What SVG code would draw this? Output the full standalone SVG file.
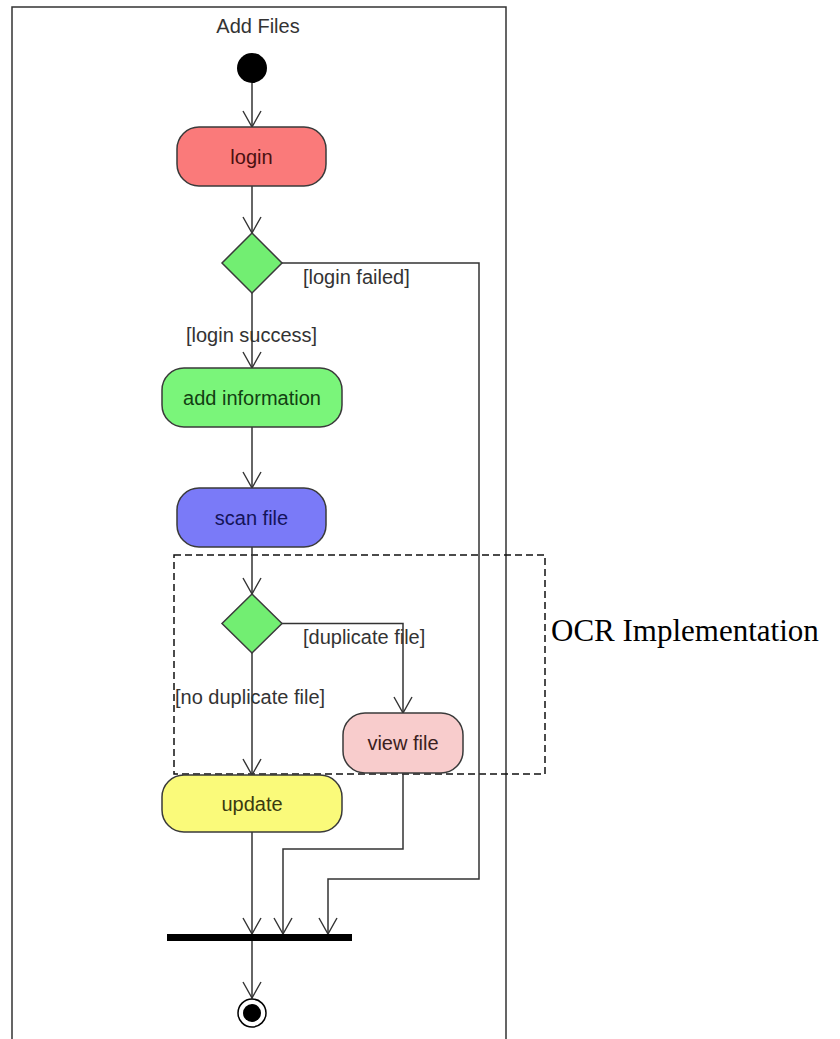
<svg xmlns="http://www.w3.org/2000/svg" width="840" height="1039" viewBox="0 0 840 1039">
<style>
.ln{fill:none;stroke:#333;stroke-width:1.5}
.act{stroke:#3a3a3a;stroke-width:1.5}
.t{font-family:"Liberation Sans",Arial,sans-serif;font-size:20px;text-anchor:middle}
.lb{font-family:"Liberation Sans",Arial,sans-serif;font-size:20px;fill:#333}
</style>
<defs>
<marker id="arr" viewBox="0 0 18 20" refX="17" refY="10" markerWidth="18" markerHeight="20" markerUnits="userSpaceOnUse" orient="auto">
<path d="M1,1 L17,10 L1,19" fill="none" stroke="#333" stroke-width="1.4"/>
</marker>
</defs>
<rect width="840" height="1039" fill="#fff"/>
<g id="frame">
<path d="M12,1039 V7 H506 V1039" class="ln"/>
<text x="258" y="33" class="t" fill="#333">Add Files</text>
</g>
<g id="ocr-region">
<rect x="174" y="555" width="371" height="219" fill="none" stroke="#111" stroke-width="1.5" stroke-dasharray="7,4"/>
<text x="551" y="641" font-family="Liberation Serif,'Times New Roman',serif" font-size="31" fill="#000">OCR Implementation</text>
</g>
<g id="connectors">
<line x1="252" y1="83" x2="252" y2="127" class="ln" marker-end="url(#arr)"/>
<line x1="252" y1="186" x2="252" y2="233" class="ln" marker-end="url(#arr)"/>
<line x1="252" y1="293" x2="252" y2="368" class="ln" marker-end="url(#arr)"/>
<polyline points="282,263 479,263 479,879 328,879 328,934" class="ln" marker-end="url(#arr)"/>
<line x1="252" y1="427" x2="252" y2="488" class="ln" marker-end="url(#arr)"/>
<line x1="252" y1="547" x2="252" y2="594" class="ln" marker-end="url(#arr)"/>
<polyline points="282,623.5 403,623.5 403,713" class="ln" marker-end="url(#arr)"/>
<line x1="252" y1="653" x2="252" y2="775" class="ln" marker-end="url(#arr)"/>
<line x1="252" y1="832" x2="252" y2="934" class="ln" marker-end="url(#arr)"/>
<polyline points="403,773 403,849 283,849 283,934" class="ln" marker-end="url(#arr)"/>
<line x1="252" y1="941" x2="252" y2="998" class="ln" marker-end="url(#arr)"/>
<text x="303" y="284" class="lb">[login failed]</text>
<text x="186" y="342" class="lb">[login success]</text>
<text x="303" y="644" class="lb">[duplicate file]</text>
<text x="175" y="704" class="lb">[no duplicate file]</text>
</g>
<g id="initial"><circle cx="252" cy="68" r="15" fill="#000"/></g>
<g id="login">
<rect x="177" y="127" width="149" height="59" rx="22" fill="#fa7a7a" class="act"/>
<text x="251.5" y="164" class="t" fill="#4a1010">login</text>
</g>
<g id="decision1"><polygon points="252,233 282,263 252,293 222,263" fill="#72ee72" class="act"/></g>
<g id="add-information">
<rect x="162" y="368" width="180" height="59" rx="22" fill="#7af57a" class="act"/>
<text x="252" y="405" class="t" fill="#124012">add information</text>
</g>
<g id="scan-file">
<rect x="177" y="488" width="149" height="59" rx="22" fill="#7a7af8" class="act"/>
<text x="251.5" y="525" class="t" fill="#14145a">scan file</text>
</g>
<g id="decision2"><polygon points="252,594 282,623.5 252,653 222,623.5" fill="#72ee72" class="act"/></g>
<g id="view-file">
<rect x="343" y="713" width="120" height="60" rx="22" fill="#f8cccc" class="act"/>
<text x="403" y="750" class="t" fill="#3a2020">view file</text>
</g>
<g id="update">
<rect x="162" y="775" width="180" height="57" rx="22" fill="#fafa7a" class="act"/>
<text x="252" y="811" class="t" fill="#3a3a10">update</text>
</g>
<g id="join-bar"><rect x="167" y="934" width="185" height="7" fill="#000"/></g>
<g id="final">
<circle cx="252" cy="1013" r="14" fill="#fff" stroke="#000" stroke-width="1.5"/>
<circle cx="252" cy="1013" r="9" fill="#000"/>
</g>
</svg>
